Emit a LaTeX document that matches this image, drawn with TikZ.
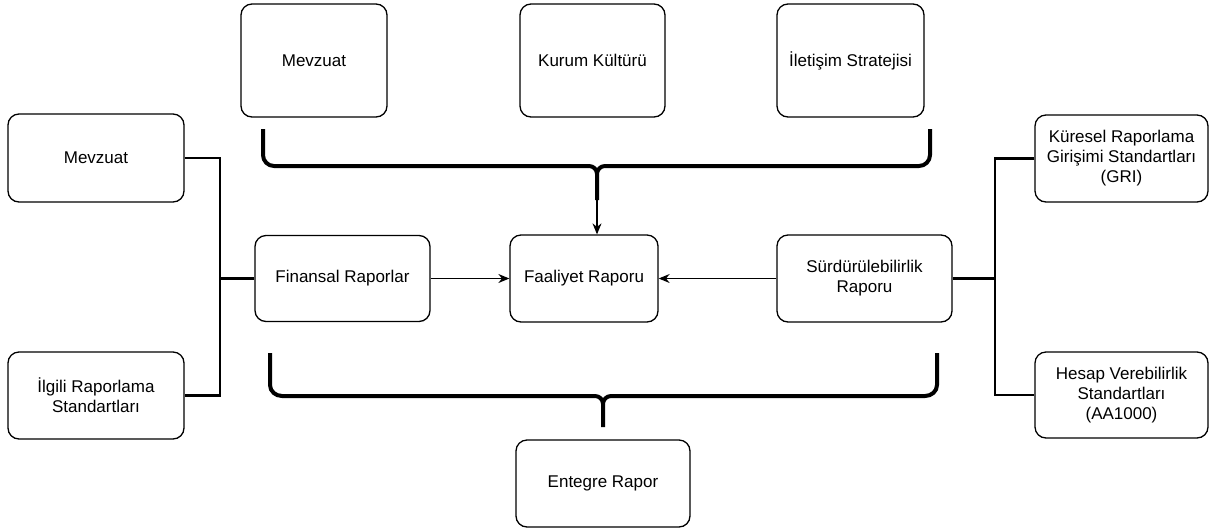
\documentclass[tikz,border=0pt]{standalone}
\usepackage{fontspec}
\setmainfont{Liberation Sans}
\usetikzlibrary{arrows.meta}
\tikzset{
  box/.style={draw=black, line width=1.3pt, rounded corners=11pt, align=center, inner sep=2pt, font=\fontsize{17}{20}\selectfont},
  conn/.style={line width=2.8pt, line join=miter},
  brc/.style={line width=4pt, line cap=butt, line join=round},
  arr/.style={line width=1.2pt, -{Stealth[length=11pt,width=9pt]}}
}
\begin{document}
\begin{tikzpicture}[x=1pt,y=-1pt]
\useasboundingbox (0,0) rectangle (1213,531);
% top row
\node[box, minimum width=146pt, minimum height=113pt] (tm) at (314,60.5) {Mevzuat};
\node[box, minimum width=145pt, minimum height=113pt] (tk) at (592.5,60.5) {Kurum Kültürü};
\node[box, minimum width=147pt, minimum height=113pt] (ti) at (850.5,60.5) {İletişim Stratejisi};
% left
\node[box, minimum width=176pt, minimum height=88pt] (lm) at (96,158) {Mevzuat};
\node[box, minimum width=176pt, minimum height=87pt] (li) at (96,395.5) {İlgili Raporlama\\Standartları};
% middle
\node[box, minimum width=175pt, minimum height=86pt] (fin) at (342.5,278.5) {Finansal Raporlar};
\node[box, minimum width=148pt, minimum height=87pt] (faa) at (584,278.5) {Faaliyet Raporu};
\node[box, minimum width=175pt, minimum height=87pt] (sur) at (864.5,278.5) {Sürdürülebilirlik\\Raporu};
% right
\node[box, minimum width=173pt, minimum height=87pt] (gri) at (1121.5,158.5) {Küresel Raporlama\\Girişimi Standartları\\(GRI)};
\node[box, minimum width=173pt, minimum height=86pt] (aa) at (1121.5,395) {Hesap Verebilirlik\\Standartları\\(AA1000)};
% bottom
\node[box, minimum width=174pt, minimum height=87pt] (ent) at (603,483.5) {Entegre Rapor};
% left connector
\coordinate (lj) at (220,278.5);
\draw[conn] (lm.east) -| (lj) |- (li.east);
\draw[conn] (lj) -- (fin.west);
% right connector
\coordinate (rj) at (995,278.5);
\draw[conn] (gri.west) -| (rj) |- (aa.west);
\draw[conn] (rj) -- (sur.east);
% arrows
\draw[arr] (fin.east) -- (faa.west);
\draw[arr] (sur.west) -- (faa.east);
% top brace
\coordinate (tbl) at (263,129);
\coordinate (tbr) at (930,129);
\coordinate (tbc) at (597,174);
\coordinate (tbs) at (597,200);
\draw[brc] (tbl) -- (263,155) to[out=-90,in=180] (274,166) -- (589,166) to[out=0,in=90] (tbc) -- (tbs);
\draw[brc] (tbr) -- (930,155) to[out=-90,in=0] (919,166) -- (605,166) to[out=180,in=90] (tbc);
\draw[arr] (tbs) -- (tbs |- faa.north);
% bottom brace
\coordinate (bbl) at (270,353);
\coordinate (bbr) at (937,353);
\coordinate (bbc) at (603,404);
\coordinate (bbs) at (603,427);
\draw[brc] (bbl) -- (270,385) to[out=-90,in=180] (282,396) -- (595,396) to[out=0,in=90] (bbc) -- (bbs);
\draw[brc] (bbr) -- (937,385) to[out=-90,in=0] (925,396) -- (611,396) to[out=180,in=90] (bbc);
\end{tikzpicture}
\end{document}
